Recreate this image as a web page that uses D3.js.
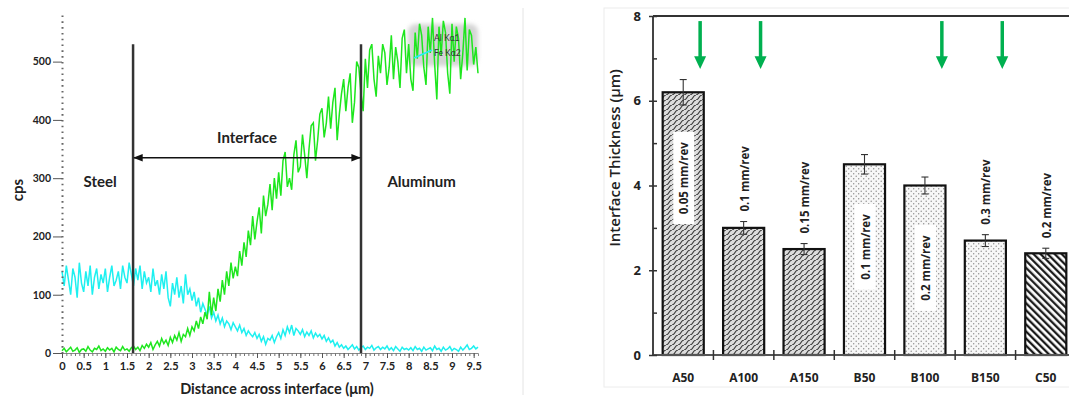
<!DOCTYPE html>
<html>
<head>
<meta charset="utf-8">
<script src="https://cdn.jsdelivr.net/npm/d3@7"></script>
<style>
body { margin: 0; background: #fff; }
text { fill: #222; }
</style>
</head>
<body>
<script>
var width = 1069;
var height = 398;

// Line scan across the interface (cps), one reading every 0.05 µm.
var scanStep = 0.05;
var alKa1 = [
  4, 8, 2, 6, 10, 3, 5, 9, 1, 6,
  7, 3, 11, 5, 2, 8, 6, 12, 4, 7,
  3, 9, 5, 8, 2, 10, 6, 4, 11, 5,
  7, 3, 9, 12, 6, 10, 4, 13, 8, 15,
  10, 18, 6, 14, 20, 12, 25, 16, 22, 13,
  27, 18, 30, 22, 35, 20, 32, 28, 42, 30,
  45, 38, 55, 42, 62, 50, 70, 58, 105, 65,
  95, 72, 110, 88, 125, 100, 140, 115, 155, 128,
  148, 132, 175, 150, 190, 165, 210, 185, 235, 195,
  225, 250, 205, 270, 235, 255, 290, 245, 300, 265,
  310, 270, 330, 345, 285, 300, 280, 340, 365, 310,
  320, 375, 340, 300, 350, 390, 395, 330, 365, 410,
  420, 370, 395, 440, 385, 430, 455, 365, 410, 445,
  470, 415, 455, 480, 395, 430, 500, 490, 445, 415,
  505, 455, 520, 530, 470, 440, 510, 480, 530, 515,
  460, 490, 545, 470, 525, 500, 455, 540, 555, 480,
  530, 470, 450, 550, 505, 565, 545, 490, 460, 560,
  515, 575, 495, 435, 560, 510, 570, 550, 480, 445,
  565, 500, 560, 540, 470, 515, 575, 485, 555, 545,
  495, 525, 480
];
var feKa2 = [
  140, 115, 150, 125, 100, 145, 130, 95, 155, 120,
  105, 140, 115, 150, 100, 130, 145, 110, 135, 120,
  145, 105, 130, 150, 115, 125, 140, 110, 150, 130,
  120, 155, 135, 115, 145, 125, 150, 110, 140, 120,
  130, 105, 145, 115, 125, 100, 135, 110, 140, 95,
  80, 120, 100, 130, 95, 115, 85, 135, 100, 110,
  90, 105, 80, 95, 70, 85, 75, 65, 80, 60,
  70, 55, 65, 50, 60, 45, 55, 50, 40, 52,
  45, 38, 48, 35, 42, 30, 38, 32, 28, 35,
  25, 32, 20, 28, 15, 25, 22, 30, 18, 28,
  35, 25, 40, 30, 45, 35, 48, 30, 42, 38,
  32, 40, 28, 36, 30, 38, 26, 34, 28, 32,
  24, 30, 20, 26, 18, 22, 12, 18, 10, 14,
  8, 12, 6, 10, 14, 7, 11, 5, 9, 12,
  6, 10, 8, 13, 5, 9, 11, 6, 10, 7,
  12, 5, 9, 4, 11, 7, 3, 10, 6, 8,
  5, 9, 4, 11, 6, 8, 3, 10, 5, 7,
  9, 4, 12, 6, 8, 3, 10, 5, 7, 11,
  4, 8, 6, 3, 10, 5, 9, 14, 6, 8,
  12, 7, 10
];
var scanXTicks = [0, 0.5, 1, 1.5, 2, 2.5, 3, 3.5, 4, 4.5, 5, 5.5, 6, 6.5, 7, 7.5, 8, 8.5, 9, 9.5];
var scanYTicks = [0, 100, 200, 300, 400, 500];
var interfaceBounds = [1.64, 6.9];

// Bar chart data.
var categories = ['A50', 'A100', 'A150', 'B50', 'B100', 'B150', 'C50'];
var thickness = [6.2, 3.0, 2.5, 4.5, 4.0, 2.7, 2.4];
var thicknessErr = [0.3, 0.15, 0.13, 0.23, 0.2, 0.14, 0.12];
var feedLabels = ['0.05 mm/rev', '0.1 mm/rev', '0.15 mm/rev', '0.1 mm/rev', '0.2 mm/rev', '0.3 mm/rev', '0.2 mm/rev'];
var barYTicks = [0, 2, 4, 6, 8];
var arrowCats = ['A50', 'A100', 'B100', 'B150'];

var insideLabels = ['A50', 'B50', 'B100'];

// Create SVG canvas.
var svg = d3.select('body')
  .append('svg')
  .attr('width', width)
  .attr('height', height);

var defs = svg.append('defs');

// Fill patterns for the three bar groups.
var patA = defs.append('pattern')
  .attr('id', 'patA')
  .attr('patternUnits', 'userSpaceOnUse')
  .attr('width', 6)
  .attr('height', 5);
patA.append('rect').attr('width', 6).attr('height', 5).attr('fill', '#dcdcdc');
patA.append('path')
  .attr('d', 'M0,5 Q2,4.5 3,2.5 T6,0')
  .attr('fill', 'none')
  .attr('stroke', '#3a3a3a')
  .attr('stroke-width', 1.1);

var patB = defs.append('pattern')
  .attr('id', 'patB')
  .attr('patternUnits', 'userSpaceOnUse')
  .attr('width', 5)
  .attr('height', 5);
patB.append('rect').attr('width', 5).attr('height', 5).attr('fill', '#f7f7f7');
patB.append('circle').attr('cx', 1.2).attr('cy', 1.2).attr('r', 0.7).attr('fill', '#8a8a8a');
patB.append('circle').attr('cx', 3.7).attr('cy', 3.7).attr('r', 0.7).attr('fill', '#8a8a8a');

var patC = defs.append('pattern')
  .attr('id', 'patC')
  .attr('patternUnits', 'userSpaceOnUse')
  .attr('width', 5)
  .attr('height', 10)
  .attr('patternTransform', 'rotate(-45)');
patC.append('rect').attr('width', 5).attr('height', 10).attr('fill', '#fff');
patC.append('line')
  .attr('x1', 1.2).attr('y1', 0).attr('x2', 1.2).attr('y2', 10)
  .attr('stroke', '#111')
  .attr('stroke-width', 2.2);

defs.append('filter')
  .attr('id', 'blur')
  .append('feGaussianBlur')
  .attr('stdDeviation', 2);

defs.append('marker')
  .attr('id', 'arrowHead')
  .attr('viewBox', '0 0 10 10')
  .attr('refX', 9).attr('refY', 5)
  .attr('markerWidth', 6).attr('markerHeight', 6)
  .attr('orient', 'auto-start-reverse')
  .append('path')
  .attr('d', 'M0,1 L10,5 L0,9 z')
  .attr('fill', '#111');

// Faint panel frames.
svg.append('line')
  .attr('x1', 523).attr('x2', 523)
  .attr('y1', 8).attr('y2', 395)
  .attr('stroke', '#e4e4e4');
svg.append('rect')
  .attr('x', 604).attr('y', 8)
  .attr('width', 480).attr('height', 379)
  .attr('fill', 'none')
  .attr('stroke', '#ececec');

// ---------- Left panel: line scan ----------
var xScan = d3.scaleLinear().domain([0, 9.6]).range([62, 478]);
var yScan = d3.scaleLinear().domain([0, 580]).range([353, 15]);

// Legend box behind the lines.
svg.append('rect')
  .attr('x', 408).attr('y', 24)
  .attr('width', 70).attr('height', 42)
  .attr('rx', 8)
  .attr('fill', '#d4d4d4')
  .attr('filter', 'url(#blur)');

var line = d3.line()
  .x(function(d, i) { return xScan(i * scanStep); })
  .y(function(d) { return yScan(d); });

svg.append('path')
  .datum(feKa2)
  .attr('d', line)
  .attr('fill', 'none')
  .attr('stroke', '#1ef0f0')
  .attr('stroke-width', 1.5);

svg.append('path')
  .datum(alKa1)
  .attr('d', line)
  .attr('fill', 'none')
  .attr('stroke', '#1ee61e')
  .attr('stroke-width', 1.5);

// Legend text.
svg.append('line')
  .attr('x1', 414).attr('y1', 58)
  .attr('x2', 432).attr('y2', 50)
  .attr('stroke', '#1ef0f0')
  .attr('stroke-width', 1.5);
svg.selectAll('.legendText')
  .data(['Al Kα1', 'Fe Kα2'])
  .enter().append('text')
  .attr('class', 'legendText')
  .attr('x', 434)
  .attr('y', function(d, i) { return 41 + i * 15; })
  .attr('font-family', 'Lato, sans-serif')
  .attr('font-size', 8.5)
  .style('fill', '#333')
  .text(function(d) { return d; });

// X axis with minor ticks.
svg.append('g')
  .attr('transform', 'translate(0,' + yScan(0) + ')')
  .call(d3.axisBottom(xScan).tickValues(d3.range(0, 96).map(function(i) { return i / 10; })).tickSize(3).tickFormat(''))
  .call(function(g) { g.selectAll('line').attr('stroke', '#777'); g.select('.domain').attr('stroke', '#888'); });

svg.append('g')
  .attr('transform', 'translate(0,' + yScan(0) + ')')
  .call(d3.axisBottom(xScan).tickValues(scanXTicks).tickSize(5).tickPadding(4).tickFormat(d3.format('')))
  .call(function(g) {
    g.select('.domain').remove();
    g.selectAll('line').attr('stroke', '#555');
    g.selectAll('text')
      .attr('font-family', 'Lato, sans-serif')
      .attr('font-size', 11)
      .attr('font-weight', 700)
      .style('fill', '#222');
  });

// Y axis, dotted.
svg.append('g')
  .attr('transform', 'translate(' + xScan(0) + ',0)')
  .call(d3.axisLeft(yScan).tickValues(scanYTicks).tickSize(9).tickSizeOuter(0).tickPadding(2))
  .call(function(g) {
    g.select('.domain')
      .attr('stroke', '#666')
      .attr('stroke-width', 2)
      .attr('stroke-dasharray', '1.6,4.2');
    g.selectAll('line').attr('stroke', '#555');
    g.selectAll('text')
      .attr('font-family', 'Lato, sans-serif')
      .attr('font-size', 10.5)
      .attr('font-weight', 700)
      .style('fill', '#222');
  });

// Interface boundaries and the span arrow.
svg.selectAll('.bound')
  .data(interfaceBounds)
  .enter().append('line')
  .attr('class', 'bound')
  .attr('x1', function(d) { return xScan(d); })
  .attr('x2', function(d) { return xScan(d); })
  .attr('y1', yScan(530))
  .attr('y2', yScan(0))
  .attr('stroke', '#333')
  .attr('stroke-width', 2.5);

svg.append('line')
  .attr('x1', xScan(interfaceBounds[0]) + 1)
  .attr('x2', xScan(interfaceBounds[1]) - 1)
  .attr('y1', yScan(335))
  .attr('y2', yScan(335))
  .attr('stroke', '#111')
  .attr('stroke-width', 1.6)
  .attr('marker-start', 'url(#arrowHead)')
  .attr('marker-end', 'url(#arrowHead)');

var regionLabels = [
  {text: 'Interface', x: (interfaceBounds[0] + interfaceBounds[1]) / 2, y: 360},
  {text: 'Steel', x: 0.88, y: 285},
  {text: 'Aluminum', x: 8.3, y: 285}
];
svg.selectAll('.region')
  .data(regionLabels)
  .enter().append('text')
  .attr('class', 'region')
  .attr('x', function(d) { return xScan(d.x); })
  .attr('y', function(d) { return yScan(d.y); })
  .attr('text-anchor', 'middle')
  .attr('font-family', 'Lato, sans-serif')
  .attr('font-size', 15)
  .attr('font-weight', 700)
  .text(function(d) { return d.text; });

svg.append('text')
  .attr('x', 277)
  .attr('y', 394)
  .attr('text-anchor', 'middle')
  .attr('font-family', 'Lato, sans-serif')
  .attr('font-size', 14.5)
  .attr('font-weight', 700)
  .text('Distance across interface (μm)');

svg.append('text')
  .attr('transform', 'translate(23,190) rotate(-90)')
  .attr('text-anchor', 'middle')
  .attr('font-family', 'Lato, sans-serif')
  .attr('font-size', 15)
  .attr('font-weight', 700)
  .text('cps');

// ---------- Right panel: interface thickness ----------
var xBar = d3.scaleBand()
  .domain(categories)
  .range([653, 1076])
  .paddingInner(0.32)
  .paddingOuter(0.16);
var yBar = d3.scaleLinear().domain([0, 8]).range([355, 16]);

function patternFor(c) {
  return 'url(#pat' + c.charAt(0) + ')';
}

var bars = categories.map(function(c, i) {
  return {cat: c, value: thickness[i], err: thicknessErr[i], label: feedLabels[i]};
});

svg.selectAll('.bar')
  .data(bars)
  .enter().append('rect')
  .attr('class', 'bar')
  .attr('x', function(d) { return xBar(d.cat); })
  .attr('y', function(d) { return yBar(d.value); })
  .attr('width', xBar.bandwidth())
  .attr('height', function(d) { return yBar(0) - yBar(d.value); })
  .attr('fill', function(d) { return patternFor(d.cat); })
  .attr('stroke', '#111')
  .attr('stroke-width', 2.2);

// Error bars.
var errG = svg.append('g').attr('stroke', '#333').attr('stroke-width', 1.1);
bars.forEach(function(d) {
  var cx = xBar(d.cat) + xBar.bandwidth() / 2;
  errG.append('line')
    .attr('x1', cx).attr('x2', cx)
    .attr('y1', yBar(d.value + d.err)).attr('y2', yBar(d.value - d.err));
  [d.value + d.err, d.value - d.err].forEach(function(v) {
    errG.append('line')
      .attr('x1', cx - 3.5).attr('x2', cx + 3.5)
      .attr('y1', yBar(v)).attr('y2', yBar(v));
  });
});

// Feed rate labels, rotated.
bars.forEach(function(d) {
  var cx = xBar(d.cat) + xBar.bandwidth() / 2 + 1;
  var inside = insideLabels.indexOf(d.cat) >= 0;
  var anchorY = inside ? yBar(d.value) + 50 : yBar(d.value + d.err) - 10;
  var g = svg.append('g')
    .attr('transform', 'translate(' + cx + ',' + anchorY + ') rotate(-90)');
  var bg = g.append('rect').attr('fill', '#fff');
  var t = g.append('text')
    .attr('text-anchor', inside ? 'end' : 'start')
    .attr('dy', '0.35em')
    .attr('font-family', '"Open Sans", sans-serif')
    .attr('font-size', 11.5)
    .attr('font-weight', 700)
    .text(d.label);
  if (inside) {
    var bb = t.node().getBBox();
    bg.attr('x', bb.x - 10).attr('y', bb.y - 3)
      .attr('width', bb.width + 20).attr('height', bb.height + 6);
  } else {
    bg.remove();
  }
});

// Axes.
svg.append('line')
  .attr('x1', 653).attr('x2', width)
  .attr('y1', yBar(8)).attr('y2', yBar(8))
  .attr('stroke', '#333').attr('stroke-width', 2);
svg.append('line')
  .attr('x1', 653).attr('x2', width)
  .attr('y1', yBar(0)).attr('y2', yBar(0))
  .attr('stroke', '#555').attr('stroke-width', 2);
svg.append('line')
  .attr('x1', 653).attr('x2', 653)
  .attr('y1', yBar(8)).attr('y2', yBar(0))
  .attr('stroke', '#444').attr('stroke-width', 2);

svg.append('g')
  .attr('transform', 'translate(653,0)')
  .call(d3.axisLeft(yBar).tickValues(barYTicks).tickSize(4).tickPadding(8))
  .call(function(g) {
    g.select('.domain').remove();
    g.selectAll('line').attr('x1', 4).attr('stroke', '#333').attr('stroke-width', 1.5);
    g.selectAll('text')
      .attr('font-family', '"Open Sans", sans-serif')
      .attr('font-size', 13)
      .attr('font-weight', 700)
      .style('fill', '#222');
  });

svg.append('g')
  .attr('transform', 'translate(653,0)')
  .call(d3.axisRight(yBar).tickValues([1, 3, 5, 7]).tickSize(4).tickFormat(''))
  .call(function(g) {
    g.select('.domain').remove();
    g.selectAll('line').attr('stroke', '#333').attr('stroke-width', 1.5);
  });

svg.selectAll('.sep')
  .data(d3.range(1, 7))
  .enter().append('line')
  .attr('class', 'sep')
  .attr('x1', function(k) { return 653 + k * xBar.step(); })
  .attr('x2', function(k) { return 653 + k * xBar.step(); })
  .attr('y1', yBar(0) - 5)
  .attr('y2', yBar(0) + 5)
  .attr('stroke', '#333')
  .attr('stroke-width', 1.5);

svg.selectAll('.catLabel')
  .data(categories)
  .enter().append('text')
  .attr('class', 'catLabel')
  .attr('x', function(c) { return xBar(c) + xBar.bandwidth() / 2; })
  .attr('y', 382)
  .attr('text-anchor', 'middle')
  .attr('font-family', '"Open Sans", sans-serif')
  .attr('font-size', 12)
  .attr('font-weight', 700)
  .text(function(c) { return c; });

svg.append('text')
  .attr('transform', 'translate(620,158) rotate(-90)')
  .attr('text-anchor', 'middle')
  .attr('font-family', '"Open Sans", sans-serif')
  .attr('font-size', 15)
  .attr('font-weight', 600)
  .text('Interface Thickness (µm)');

// Green arrows.
arrowCats.forEach(function(c) {
  var ax = xBar(c) + xBar.step() * 0.62;
  svg.append('line')
    .attr('x1', ax).attr('x2', ax)
    .attr('y1', yBar(7.88)).attr('y2', yBar(7.0))
    .attr('stroke', '#00b050')
    .attr('stroke-width', 3.5);
  svg.append('path')
    .attr('d', 'M' + (ax - 6) + ',' + yBar(7.05) + 'L' + (ax + 6) + ',' + yBar(7.05) + 'L' + ax + ',' + yBar(6.75) + 'Z')
    .attr('fill', '#00b050');
});
</script>
</body>
</html>
